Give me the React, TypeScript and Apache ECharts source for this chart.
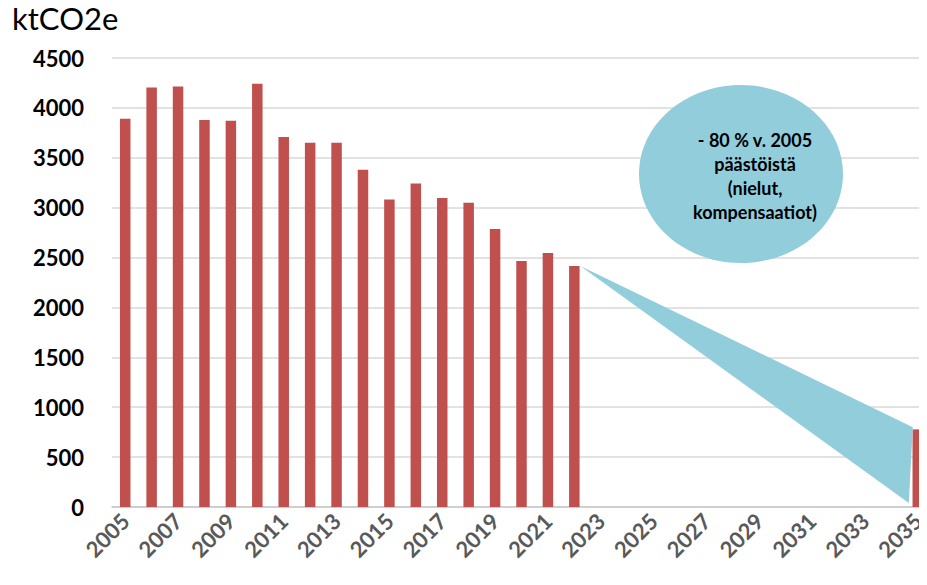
import React, { useEffect, useRef } from "react";
import * as echarts from "echarts";

const years: string[] = [];
for (let y = 2005; y <= 2035; y++) years.push(String(y));

const emissionYears = ["2005","2006","2007","2008","2009","2010","2011","2012","2013","2014","2015","2016","2017","2018","2019","2020","2021","2022","2035"];
const emissionValues = [3890, 4205, 4215, 3878, 3871, 4241, 3707, 3650, 3650, 3380, 3083, 3243, 3096, 3049, 2785, 2465, 2545, 2415, 778];

// wedge annotation: from top of 2022 bar to 2035 (upper and lower values)
const wedgeStart = { year: "2022", value: 2415 };
const wedgeEnd = { year: "2035", top: 800, bottom: 40 };

const yTicks = [0, 500, 1000, 1500, 2000, 2500, 3000, 3500, 4000, 4500];
const bubbleText = ["- 80 % v. 2005", "päästöistä", "(nielut,", "kompensaatiot)"];

export default function App() {
  const ref = useRef<HTMLDivElement>(null);
  useEffect(() => {
    if (!ref.current) return;
    const chart = echarts.init(ref.current, undefined, { renderer: "svg" });
    const barData = years.map((y) => {
      const i = emissionYears.indexOf(y);
      return i >= 0 ? emissionValues[i] : null;
    });
    chart.setOption({
      animation: false,
      grid: { left: 112, top: 58, bottom: 78, width: 819 },
      xAxis: {
        type: "category",
        data: years,
        axisTick: { show: false },
        axisLine: { lineStyle: { color: "#c8c8c8", width: 1.5 } },
        axisLabel: {
          interval: 1,
          rotate: 45,
          margin: 10,
          color: "#595959",
          fontFamily: "Lato",
          fontWeight: "bold",
          fontSize: 22,
        },
      },
      yAxis: {
        type: "value",
        min: yTicks[0],
        max: yTicks[yTicks.length - 1],
        interval: 500,
        axisLine: { show: false },
        axisTick: { show: false },
        splitLine: { lineStyle: { color: "#d9d9d9", width: 1.5 } },
        axisLabel: {
          margin: 28,
          color: "#000",
          fontFamily: "Lato",
          fontWeight: "bold",
          fontSize: 22,
          formatter: (v: number) => String(v),
        },
      },
      graphic: [
        {
          type: "text",
          left: 12,
          top: 2,
          style: { text: "ktCO2e", fontFamily: "Lato", fontSize: 31, fill: "#000" },
        },
        {
          type: "ellipse",
          shape: { cx: 741, cy: 174, rx: 102, ry: 89 },
          style: { fill: "#92cddc" },
          z: 10,
        },
        {
          type: "text",
          x: 755,
          y: 176,
          z: 11,
          style: {
            text: bubbleText.join("\n"),
            fontFamily: "Lato",
            fontWeight: "bold",
            fontSize: 18,
            lineHeight: 24,
            align: "center",
            verticalAlign: "middle",
            fill: "#000",
          },
        },
      ],
      series: [
        {
          type: "bar",
          data: barData,
          barWidth: 10.5,
          itemStyle: { color: "#c0504d" },
        },
        {
          type: "custom",
          data: [0],
          z: 3,
          renderItem: (params: any, api: any) => {
            const si = years.indexOf(wedgeStart.year);
            const ei = years.indexOf(wedgeEnd.year);
            const p0 = api.coord([si, wedgeStart.value]);
            const p1 = api.coord([ei, wedgeEnd.top]);
            const p2 = api.coord([ei, wedgeEnd.bottom]);
            return {
              type: "polygon",
              shape: {
                points: [
                  [p0[0] + 6, p0[1]],
                  [p1[0] - 5, p1[1]],
                  [p2[0] - 9, p2[1]],
                ],
              },
              style: { fill: "#92cddc" },
            };
          },
        },
      ],
    });
    return () => chart.dispose();
  }, []);
  return (
    <div style={{ width: 927, height: 585, margin: -8, overflow: "hidden" }}>
      <div ref={ref} style={{ width: 945, height: 585 }} />
    </div>
  );
}
